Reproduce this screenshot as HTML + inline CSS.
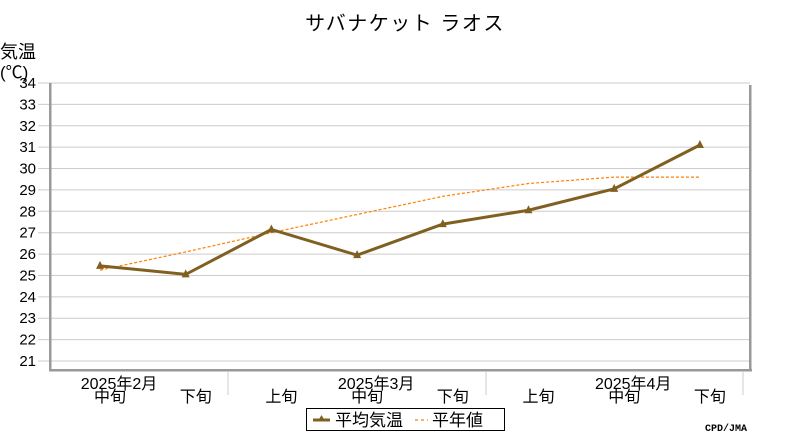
<!DOCTYPE html>
<html><head><meta charset="utf-8"><style>
body{margin:0;background:#fff;width:800px;height:440px;overflow:hidden}
svg{font-family:"Liberation Sans","Noto Sans CJK JP",sans-serif}
</style></head><body>
<svg width="800" height="440" id="c">
<text x="405" y="30" font-size="20" letter-spacing="1.5" text-anchor="middle">サバナケット ラオス</text>
<text x="0" y="58" font-size="18">気温</text>
<text x="0" y="78" font-size="17">(℃)</text>
<g id="grid"></g>
<rect x="49" y="83" width="2.5" height="288" fill="#999"/>
<rect x="49" y="369" width="703" height="2.5" fill="#999"/>
<rect x="749" y="85" width="2.5" height="286" fill="#999"/>
<g id="xl"></g>
<polyline id="norm" fill="none" stroke="#ff7f00" stroke-width="1.2" stroke-dasharray="3,2"/>
<polyline id="avg" fill="none" stroke="#806020" stroke-width="3"/>
<g id="pts"></g>
<g>
<rect x="306.5" y="408.5" width="198" height="22" fill="#fff" stroke="#000"/>
<line x1="313" y1="420" x2="330" y2="420" stroke="#806020" stroke-width="3"/>
<path d="M321.5 415 L325 421 L318 421 Z" fill="#806020"/>
<text x="335" y="426" font-size="17">平均気温</text>
<line x1="415" y1="420" x2="428" y2="420" stroke="#ff7f00" stroke-dasharray="3,3" stroke-width="1.2"/>
<text x="432" y="426" font-size="17">平年値</text>
</g>
<text x="747" y="431" font-size="10" text-anchor="end" font-family="Liberation Mono,monospace" font-weight="bold">CPD/JMA</text>
</svg>
<script>
const yTicks=[21,22,23,24,25,26,27,28,29,30,31,32,33,34];
const periods=["中旬","下旬","上旬","中旬","下旬","上旬","中旬","下旬"];
const months=["2025年2月","2025年3月","2025年4月"];
const avgTemp=[25.45,25.05,27.15,25.95,27.4,28.05,29.05,31.1];
const normTemp=[25.25,26.1,27.0,27.85,28.7,29.3,29.6,29.6];
const NS="http://www.w3.org/2000/svg";
const y=v=>83+(34-v)*(278/13);
const x=i=>100+i*85.7;
function mk(t,a,p){const e=document.createElementNS(NS,t);for(const k in a)e.setAttribute(k,a[k]);p.appendChild(e);return e;}
const g=document.getElementById('grid');
yTicks.forEach(v=>{
 const l=mk('line',{x1:38,x2:750,y1:y(v),y2:y(v),stroke:'#ccc'},g);
 
 
 const t=mk('text',{x:36,y:y(v)+5,'font-size':15,'text-anchor':'end'},g);
 t.textContent=v;
 
 
});
const xl=document.getElementById('xl');
[228,486,743].forEach(sx=>{
 const l=mk('line',{x1:sx,x2:sx,y1:371,y2:395,stroke:'#ccc'},xl);
 
 
});
periods.forEach((p,i)=>{
 const t=mk('text',{x:x(i)+10,y:402,'font-size':16,'text-anchor':'middle'},xl);
 t.textContent=p;
 
 
});
months.forEach((m,i)=>{
 const t=mk('text',{x:x(i*3)+19,y:389,'font-size':16,'text-anchor':'middle'},xl);
 t.textContent=m;
 
 
});
document.getElementById('norm').setAttribute('points',normTemp.map((v,i)=>x(i)+','+y(v)).join(' '));
document.getElementById('avg').setAttribute('points',avgTemp.map((v,i)=>x(i)+','+y(v)).join(' '));
const pts=document.getElementById('pts');
avgTemp.forEach((v,i)=>{
 const px=x(i),py=y(v);
 const m=mk('path',{d:`M${px} ${py-5} L${px+4} ${py+3} L${px-4} ${py+3} Z`,fill:'#806020'},pts);
 
 
});
</script>
</body></html>
